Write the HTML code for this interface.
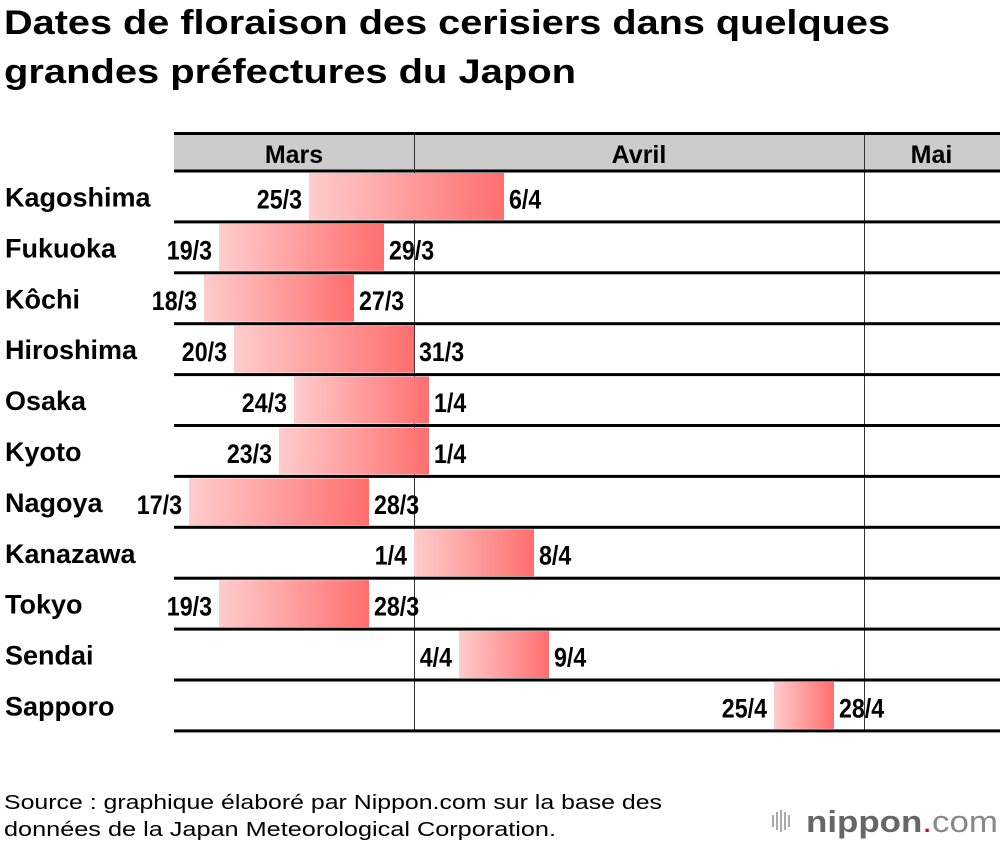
<!DOCTYPE html>
<html><head><meta charset="utf-8">
<style>
html,body{margin:0;padding:0;background:#fff;width:1000px;height:844px;overflow:hidden;font-family:"Liberation Sans",sans-serif;}
svg{display:block}
</style></head>
<body>
<svg id="chart" width="1000" height="844" viewBox="0 0 1000 844">
<defs>
<linearGradient id="g" x1="0" x2="1" y1="0" y2="0">
<stop offset="0" stop-color="#ffcccc"/><stop offset="1" stop-color="#ff6e6e"/>
</linearGradient>
</defs>
<text x="4" y="34" font-size="34" font-weight="bold" fill="#000" textLength="886" lengthAdjust="spacingAndGlyphs">Dates de floraison des cerisiers dans quelques</text>
<text x="4" y="83" font-size="34" font-weight="bold" fill="#000" textLength="572" lengthAdjust="spacingAndGlyphs">grandes préfectures du Japon</text>
<rect x="174" y="134" width="826" height="37" fill="#cccccc"/>
<g id="grid"></g>
<g id="bars"></g>
<g id="labels"></g>
<text x="4" y="809" font-size="20" fill="#000" textLength="658" lengthAdjust="spacingAndGlyphs">Source : graphique élaboré par Nippon.com sur la base des</text>
<text x="4" y="836" font-size="20" fill="#000" textLength="552" lengthAdjust="spacingAndGlyphs">données de la  Japan Meteorological Corporation.</text>
<g>
<g fill="#aaa">
<rect x="772" y="815" width="2" height="12"/><rect x="776" y="812" width="2" height="18"/><rect x="780" y="810" width="2" height="22"/><rect x="784" y="812" width="2" height="18"/><rect x="788" y="815" width="2" height="12"/>
</g>
<text x="806" y="832" font-size="31" fill="#666" textLength="192" lengthAdjust="spacingAndGlyphs"><tspan font-weight="bold">nippon</tspan><tspan fill="#e60012">.</tspan><tspan fill="#888">com</tspan></text>
</g>
</svg>
<script>
const cities=["Kagoshima","Fukuoka","Kôchi","Hiroshima","Osaka","Kyoto","Nagoya","Kanazawa","Tokyo","Sendai","Sapporo"];
const startDates=["25/3","19/3","18/3","20/3","24/3","23/3","17/3","1/4","19/3","4/4","25/4"];
const endDates=["6/4","29/3","27/3","31/3","1/4","1/4","28/3","8/4","28/3","9/4","28/4"];
const months=["Mars","Avril","Mai"];
const monthStarts=["16/3","1/4","1/5"];
const monthEnds=["31/3","30/4","9/5"];

const NS="http://www.w3.org/2000/svg";
const X0=174, PX=15, TOP=171, RH=50.9;
function dayIndex(s){const [d,m]=s.split("/").map(Number);const off={3:0,4:31,5:61}[m];return off+d-16;}
function xStart(s){return X0+dayIndex(s)*PX;}
function xEnd(s){return X0+(dayIndex(s)+1)*PX;}
function rowY(i){return TOP+i*RH;}
function el(t,a,p){const e=document.createElementNS(NS,t);for(const k in a)e.setAttribute(k,a[k]);p.appendChild(e);return e;}
const grid=document.getElementById('grid'),bars=document.getElementById('bars'),labels=document.getElementById('labels');
const bottomY=rowY(cities.length);
months.forEach((m,i)=>{
  const x1=xStart(monthStarts[i]),x2=Math.min(1000,xEnd(monthEnds[i]));
  const t=el('text',{x:(x1+x2)/2,y:163,'font-size':25,'font-weight':'bold','text-anchor':'middle'},labels);
  t.textContent=m;
  
  
  if(i>0){
    const l=el('line',{x1:x1+0.5,x2:x1+0.5,y1:134,y2:bottomY,stroke:'#333','stroke-width':1},grid);
    
    
  }
});
const topRule=el('rect',{x:174,y:132,width:826,height:3,fill:'#000'},labels);


for(let i=0;i<=cities.length;i++){
  const r=el('rect',{x:174,y:rowY(i)-1.5,width:826,height:3,fill:'#000'},labels);
  
  
}
cities.forEach((c,i)=>{
  const y=rowY(i);
  const cy=y+RH/2;
  const n=el('text',{x:5,y:cy+10,'font-size':27,'font-weight':'bold'},labels);
  n.textContent=c;
  
  
  const xs=xStart(startDates[i]),xe=xEnd(endDates[i]);
  const b=el('rect',{x:xs,y:y+2,width:xe-xs,height:RH-4,fill:'url(#g)'},bars);
  
  
  const s=el('text',{x:xs-7,y:cy+12,'font-size':27,'font-weight':'bold','text-anchor':'end',transform:`translate(${xs-7},0) scale(0.86,1) translate(${-(xs-7)},0)`},labels);
  s.textContent=startDates[i];
  
  
  const e=el('text',{x:xe+5,y:cy+12,'font-size':27,'font-weight':'bold',transform:`translate(${xe+5},0) scale(0.86,1) translate(${-(xe+5)},0)`},labels);
  e.textContent=endDates[i];
  
  
});
</script>
</body></html>
